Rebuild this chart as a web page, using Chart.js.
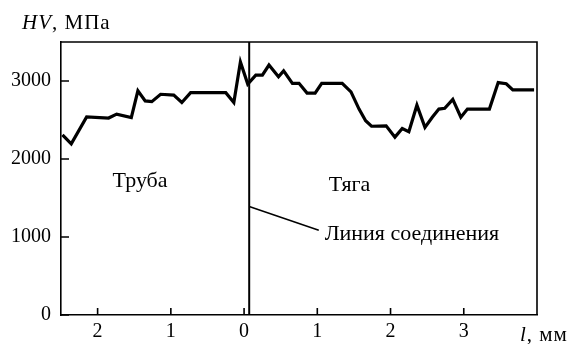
<!DOCTYPE html>
<html>
<head>
<meta charset="utf-8">
<script src="https://cdn.jsdelivr.net/npm/chart.js@4"></script>
<style>
  body { margin: 0; background: #fff; }
</style>
</head>
<body>
<canvas id="hvChart" width="569" height="344"></canvas>
<script>
//Distance from the joint, mm (left side = pipe, shown as positive numbers)
const posMm = [-2.48, -2.36, -2.15, -1.85, -1.74, -1.54, -1.45, -1.35, -1.26, -1.14,
  -0.96, -0.85, -0.73, -0.25, -0.14, -0.05, 0.05, 0.16, 0.25, 0.34,
  0.47, 0.54, 0.66, 0.75, 0.86, 0.97, 1.06, 1.34, 1.46, 1.57,
  1.66, 1.74, 1.94, 2.06, 2.16, 2.25, 2.36, 2.47, 2.57, 2.66,
  2.74, 2.85, 2.96, 3.05, 3.35, 3.47, 3.58, 3.67, 3.96];

//Hardness HV, MPa
const hv = [2310, 2195, 2540, 2525, 2575, 2530, 2875, 2745, 2735, 2830,
  2820, 2725, 2850, 2850, 2725, 3245, 2960, 3075, 3075, 3205,
  3055, 3130, 2970, 2970, 2845, 2845, 2970, 2970, 2860, 2640,
  2490, 2420, 2425, 2280, 2390, 2350, 2690, 2405, 2535, 2640,
  2650, 2765, 2535, 2640, 2640, 2980, 2965, 2885, 2885];

//Tick values
const xTicks = [-2, -1, 0, 1, 2, 3];
const yTicks = [0, 1000, 2000, 3000];

//Joint line position and text labels
const jointPos = 0.07;
const pipeLabel = { text: "Труба", x: -1.42, y: 1710 };
const rodLabel = { text: "Тяга", x: 1.44, y: 1660 };
const jointLabel = { text: "Линия соединения", x: 1.1, y: 1035 };
const leaderFrom = { x: jointPos, y: 1392 };
const leaderTo = { x: 1.02, y: 1086 };

const serif = "'Liberation Serif', 'DejaVu Serif', serif";
const tickSize = 20;
const labelSize = 22;

//Draw frame, inward ticks, joint line and the texts
const extrasPlugin = {
  id: "extras",
  afterDraw(chart) {
    const ctx = chart.ctx;
    const area = chart.chartArea;
    const xs = chart.scales.x;
    const ys = chart.scales.y;
    ctx.save();
    ctx.strokeStyle = "#000";
    ctx.lineWidth = 1.6;

    //top and right frame
    ctx.beginPath();
    ctx.moveTo(area.left, area.top);
    ctx.lineTo(area.right, area.top);
    ctx.lineTo(area.right, area.bottom);
    ctx.stroke();

    //inward ticks
    ctx.beginPath();
    yTicks.forEach((v) => {
      const py = ys.getPixelForValue(v);
      ctx.moveTo(area.left, py);
      ctx.lineTo(area.left + 8, py);
    });
    xTicks.forEach((v) => {
      const px = xs.getPixelForValue(v);
      ctx.moveTo(px, area.bottom);
      ctx.lineTo(px, area.bottom - 7);
    });
    ctx.stroke();

    //joint line
    const jx = xs.getPixelForValue(jointPos);
    ctx.lineWidth = 2;
    ctx.beginPath();
    ctx.moveTo(jx, area.top);
    ctx.lineTo(jx, area.bottom);
    ctx.stroke();

    //leader line
    ctx.lineWidth = 1.5;
    ctx.beginPath();
    ctx.moveTo(xs.getPixelForValue(leaderFrom.x), ys.getPixelForValue(leaderFrom.y));
    ctx.lineTo(xs.getPixelForValue(leaderTo.x), ys.getPixelForValue(leaderTo.y));
    ctx.stroke();

    //texts
    ctx.fillStyle = "#000";
    ctx.font = labelSize + "px " + serif;
    ctx.textBaseline = "middle";
    ctx.textAlign = "center";
    ctx.fillText(pipeLabel.text, xs.getPixelForValue(pipeLabel.x), ys.getPixelForValue(pipeLabel.y));
    ctx.fillText(rodLabel.text, xs.getPixelForValue(rodLabel.x), ys.getPixelForValue(rodLabel.y));
    ctx.textAlign = "left";
    ctx.fillText(jointLabel.text, xs.getPixelForValue(jointLabel.x), ys.getPixelForValue(jointLabel.y));

    //axis titles
    ctx.textBaseline = "alphabetic";
    ctx.letterSpacing = "1px";
    ctx.font = "italic 21px " + serif;
    ctx.fillText("HV", 22, 29);
    let w = ctx.measureText("HV").width;
    ctx.font = "21px " + serif;
    ctx.fillText(", МПа", 22 + w, 29);

    ctx.font = "italic 21px " + serif;
    ctx.fillText("l", 520, 341);
    w = ctx.measureText("l").width;
    ctx.font = "21px " + serif;
    ctx.fillText(", мм", 520 + w, 341);
    ctx.restore();
  },
};

//Create the chart
const hvChart = new Chart(document.getElementById("hvChart"), {
  type: "line",
  data: {
    datasets: [
      {
        label: "HV",
        data: posMm.map((x, i) => ({ x, y: hv[i] })),
        borderColor: "#000",
        borderWidth: 3.2,
        pointRadius: 0,
        tension: 0,
        fill: false,
      },
    ],
  },
  options: {
    responsive: false,
    devicePixelRatio: 1,
    animation: false,
    layout: { padding: { top: 42, right: 32, bottom: 0, left: 0 } },
    plugins: { legend: { display: false }, tooltip: { enabled: false } },
    scales: {
      x: {
        type: "linear",
        min: -2.5,
        max: 4.0,
        afterBuildTicks: (s) => { s.ticks = xTicks.map((v) => ({ value: v })); },
        afterFit: (s) => { s.height = 29; },
        grid: { display: false, drawTicks: false },
        border: { display: true, color: "#000", width: 1.6 },
        ticks: {
          padding: 5,
          maxRotation: 0,
          color: "#000",
          font: { family: serif, size: tickSize },
          callback: (v) => Math.abs(v),
        },
      },
      y: {
        min: 0,
        max: 3500,
        afterBuildTicks: (s) => { s.ticks = yTicks.map((v) => ({ value: v })); },
        afterFit: (s) => { s.width = 61; },
        grid: { display: false, drawTicks: false },
        border: { display: true, color: "#000", width: 1.6 },
        ticks: {
          padding: 10,
          color: "#000",
          font: { family: serif, size: tickSize },
          callback: (v) => String(v),
        },
      },
    },
  },
  plugins: [extrasPlugin],
});
</script>
</body>
</html>
